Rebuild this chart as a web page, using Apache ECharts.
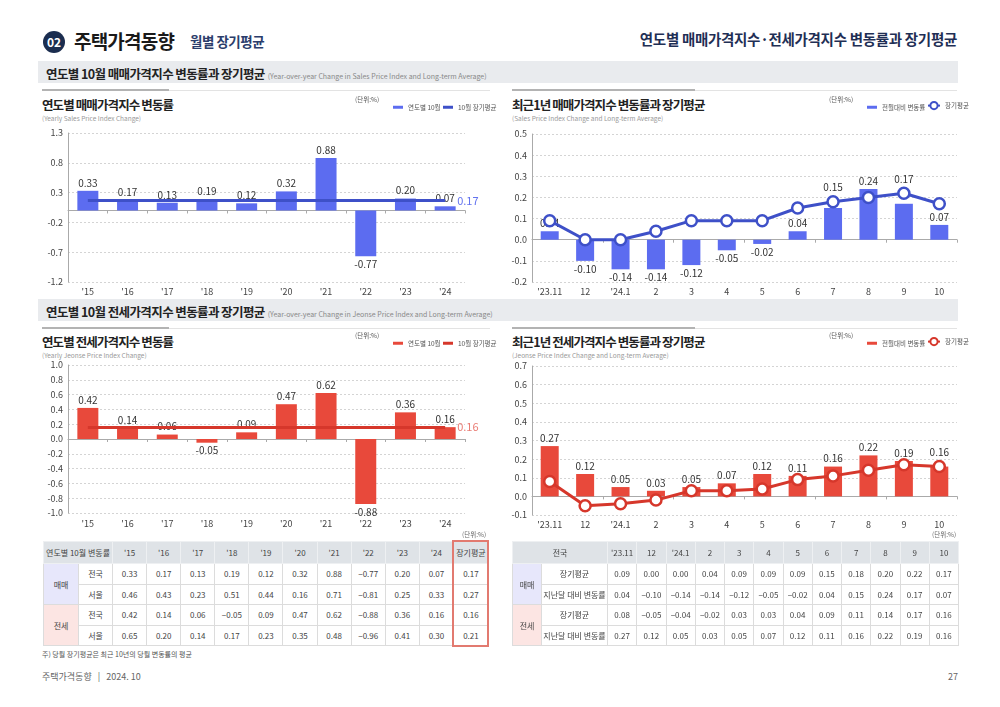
<!DOCTYPE html>
<html>
<head>
<meta charset="utf-8">
<script src="https://cdn.jsdelivr.net/npm/echarts@6.0.0/dist/echarts.min.js"></script>
<style>
  body { margin: 0; background: #fff; font-family: "Noto Sans CJK KR", "Noto Sans", sans-serif; color: #333; }
  #page { position: relative; width: 1000px; height: 707px; overflow: hidden; }
  .abs { position: absolute; white-space: nowrap; }
  .chart { position: absolute; }
  .sec { position: absolute; left: 38px; width: 920px; height: 22px; background: #e9ebee; }
  .sec b { position: absolute; left: 8px; top: 3px; font-size: 12.5px; letter-spacing: -0.6px; color: #222; }
  .sec span { font-size: 7px; color: #888; font-weight: normal; margin-left: 3px; letter-spacing: 0; }
  .hl { position: absolute; height: 1px; background: #e3e3e3; }
  .hd { position: absolute; height: 2px; background: #b3b3b3; }
  .ct { position: absolute; font-size: 12.5px; letter-spacing: -0.9px; font-weight: bold; color: #222; white-space: nowrap; }
  .cs { position: absolute; font-size: 6.5px; color: #999; white-space: nowrap; }
  table { position: absolute; border-collapse: collapse; font-size: 8px; color: #444; table-layout: fixed; }
  td { border: 1px solid #dcdcdc; text-align: center; padding: 0; height: 19.5px; }
  tr.h td { background: #dfe3e7; height: 21px; border-color: #eef0f2; }
  td.gs { background: #e7e7fb; }
  td.gj { background: #fce5e3; }
  .unit { position: absolute; font-size: 6.5px; color: #666; }
</style>
</head>
<body>
<div id="page">
  <!-- header -->
  <div class="abs" style="left:43px;top:31px;width:22px;height:22px;border-radius:11px;background:#1b2d4f;color:#fff;font-size:12px;font-weight:bold;text-align:center;line-height:22px;">02</div>
  <div class="abs" style="left:74px;top:27px;font-size:19px;letter-spacing:-0.8px;font-weight:bold;color:#1a1a1a;">주택가격동향</div>
  <div class="abs" style="left:190px;top:31px;font-size:13.5px;letter-spacing:-0.5px;font-weight:bold;color:#2b3d6b;">월별 장기평균</div>
  <div class="abs" style="right:43px;top:28px;font-size:14.5px;letter-spacing:-0.3px;font-weight:bold;color:#1f2f55;">연도별 매매가격지수·전세가격지수 변동률과 장기평균</div>

  <div class="sec" style="top:61px;"><b>연도별 10월 매매가격지수 변동률과 장기평균<span>(Year-over-year Change in Sales Price Index and Long-term Average)</span></b></div>
  <div class="sec" style="top:299px;"><b>연도별 10월 전세가격지수 변동률과 장기평균<span>(Year-over-year Change in Jeonse Price Index and Long-term Average)</span></b></div>

  <div class="hl" style="left:42px;top:90px;width:448px;"></div><div class="hd" style="left:42px;top:89px;width:127px;"></div>
  <div class="hl" style="left:512px;top:90px;width:445px;"></div><div class="hd" style="left:512px;top:89px;width:183px;"></div>
  <div class="hl" style="left:42px;top:328px;width:448px;"></div><div class="hd" style="left:42px;top:327px;width:127px;"></div>
  <div class="hl" style="left:512px;top:328px;width:445px;"></div><div class="hd" style="left:512px;top:327px;width:183px;"></div>

  <div class="ct" style="left:42px;top:95px;">연도별 매매가격지수 변동률</div>
  <div class="cs" style="left:42px;top:113px;">(Yearly Sales Price Index Change)</div>
  <div class="ct" style="left:512px;top:95px;">최근1년 매매가격지수 변동률과 장기평균</div>
  <div class="cs" style="left:512px;top:113px;">(Sales Price Index Change and Long-term Average)</div>
  <div class="ct" style="left:42px;top:332px;">연도별 전세가격지수 변동률</div>
  <div class="cs" style="left:42px;top:350px;">(Yearly Jeonse Price Index Change)</div>
  <div class="ct" style="left:512px;top:332px;">최근1년 전세가격지수 변동률과 장기평균</div>
  <div class="cs" style="left:512px;top:350px;">(Jeonse Price Index Change and Long-term Average)</div>

  <div id="cA" class="chart" style="left:40px;top:92px;width:460px;height:208px;"></div>
  <div id="cB" class="chart" style="left:500px;top:92px;width:470px;height:208px;"></div>
  <div id="cC" class="chart" style="left:40px;top:330px;width:460px;height:205px;"></div>
  <div id="cD" class="chart" style="left:500px;top:330px;width:470px;height:205px;"></div>

  <div class="unit" style="left:462px;top:529px;">(단위:%)</div>
  <div class="unit" style="left:932px;top:529px;">(단위:%)</div>

  <table id="tL" style="left:43px;top:541px;width:445px;"></table>
  <div class="abs" style="left:452px;top:540px;width:33px;height:103px;border:2px solid #e27a70;"></div>
  <table id="tR" style="left:512px;top:541px;width:446px;"></table>

  <div class="abs" style="left:42px;top:649px;font-size:7px;color:#555;">주) 당월 장기평균은 최근 10년의 당월 변동률의 평균</div>
  <div class="abs" style="left:42px;top:670px;font-size:9px;color:#666;">주택가격동향 &nbsp;&nbsp;| &nbsp;&nbsp;2024. 10</div>
  <div class="abs" style="left:948px;top:670px;font-size:9px;color:#666;">27</div>
</div>

<script>
// 연도별 10월 (전년동월대비)
var years = ["'15", "'16", "'17", "'18", "'19", "'20", "'21", "'22", "'23", "'24"];
var salesNation = [0.33, 0.17, 0.13, 0.19, 0.12, 0.32, 0.88, -0.77, 0.20, 0.07];
var salesSeoul = [0.46, 0.43, 0.23, 0.51, 0.44, 0.16, 0.71, -0.81, 0.25, 0.33];
var jeonseNation = [0.42, 0.14, 0.06, -0.05, 0.09, 0.47, 0.62, -0.88, 0.36, 0.16];
var jeonseSeoul = [0.65, 0.20, 0.14, 0.17, 0.23, 0.35, 0.48, -0.96, 0.41, 0.30];
var salesAvg = 0.17, salesSeoulAvg = 0.27;
var jeonseAvg = 0.16, jeonseSeoulAvg = 0.21;

// 최근 1년 (전월대비)
var months = ["'23.11", "12", "'24.1", "2", "3", "4", "5", "6", "7", "8", "9", "10"];
var salesMoM = [0.04, -0.10, -0.14, -0.14, -0.12, -0.05, -0.02, 0.04, 0.15, 0.24, 0.17, 0.07];
var salesLong = [0.09, 0.00, 0.00, 0.04, 0.09, 0.09, 0.09, 0.15, 0.18, 0.20, 0.22, 0.17];
var jeonseMoM = [0.27, 0.12, 0.05, 0.03, 0.05, 0.07, 0.12, 0.11, 0.16, 0.22, 0.19, 0.16];
var jeonseLong = [0.08, -0.05, -0.04, -0.02, 0.03, 0.03, 0.04, 0.09, 0.11, 0.14, 0.17, 0.16];

var FONT = '"Noto Sans CJK KR", "Noto Sans", sans-serif';
var BLUE = '#5c6cf0', BLUE_L = '#3e50c8';
var RED = '#e8493b', RED_L = '#d6372b';

function barData(vals, line, ppu) {
  return vals.map(function (v, i) {
    var d = { value: v, label: { position: v < 0 ? 'bottom' : 'top' } };
    // lift the value label over the marker when the line sits just above the bar
    if (line && v >= 0.1 && line[i] - v >= 0 && line[i] - v <= 0.06) {
      d.label.offset = [0, -(line[i] - v) * ppu - 6];
    }
    return d;
  });
}

function baseOption(c) {
  return {
    animation: false,
    textStyle: { fontFamily: FONT },
    grid: { left: c.grid[0], top: c.grid[1], right: c.grid[2], bottom: c.grid[3], containLabel: false, outerBoundsMode: 'none' },
    legend: [
      { data: [{ name: c.barName, icon: 'rect' }], left: c.lg[0], top: c.lg[2], itemWidth: 10, itemHeight: 3, itemGap: 4,
        textStyle: { fontSize: 6.5, color: '#555' }, selectedMode: false },
      { data: [c.lineIcon ? { name: c.lineName } : { name: c.lineName, icon: 'rect' }], left: c.lg[1], top: c.lineIcon ? c.lg[2] - 3 : c.lg[2],
        itemWidth: c.lineIcon ? 12 : 10, itemHeight: c.lineIcon ? 9 : 3, itemGap: 4,
        textStyle: { fontSize: 6.5, color: '#555' }, selectedMode: false }
    ],
    graphic: [{ type: 'text', left: c.lg[0] - 33, top: c.lg[2] - 3, style: { text: '(단위:%)', fontSize: 6.5, fill: '#555', fontFamily: FONT } }],
    xAxis: [
      { type: 'category', data: c.cats, position: 'bottom',
        axisLine: { show: false, onZero: false }, axisTick: { show: false },
        axisLabel: { color: '#444', fontSize: 9, margin: c.lblMargin } },
      { type: 'category', data: c.cats, position: 'bottom',
        axisLine: { show: true, onZero: true, lineStyle: { color: '#aaa' } },
        axisTick: { show: true, length: 3, lineStyle: { color: '#aaa' } },
        axisLabel: { show: false } }
    ],
    yAxis: { type: 'value', min: c.y[0], max: c.y[1], interval: c.y[2],
      axisLine: { show: true, lineStyle: { color: '#aaa' } }, axisTick: { show: false },
      axisLabel: { color: '#444', fontSize: 9, margin: 5, formatter: function (v) { return v.toFixed(1); } },
      splitLine: { show: true, lineStyle: { color: '#d4d4d4', type: [2, 2] } } },
    series: []
  };
}

function yearChart(id, c) {
  var opt = baseOption(c);
  opt.series = [
    { name: c.barName, type: 'bar', xAxisIndex: 0, data: barData(c.vals), barWidth: 21, itemStyle: { color: c.color },
      label: { show: true, fontSize: 10, color: '#333', distance: 3, formatter: function (p) { return p.value.toFixed(2); } },
      markLine: { silent: true, symbol: ['none', 'none'], animation: false,
        lineStyle: { color: c.lineColor, width: 3, type: 'solid' },
        label: { show: true, position: 'end', distance: 12, fontSize: 11, color: c.avgLabel, formatter: c.avg.toFixed(2) },
        data: [[{ coord: [c.cats[0], c.avg] }, { coord: [c.cats[c.cats.length - 1], c.avg] }]] } },
    { name: c.lineName, type: 'line', xAxisIndex: 0, data: [], itemStyle: { color: c.lineColor } }
  ];
  echarts.init(document.getElementById(id)).setOption(opt);
}

function monthChart(id, c) {
  var opt = baseOption(c);
  var h = c.h - c.grid[1] - c.grid[3];
  var ppu = h / (c.y[1] - c.y[0]);
  opt.series = [
    { name: c.barName, type: 'bar', xAxisIndex: 0, data: barData(c.vals, c.line, ppu), barWidth: 18, itemStyle: { color: c.color },
      label: { show: true, fontSize: 10, color: '#333', distance: 3, formatter: function (p) { return p.value.toFixed(2); } } },
    { name: c.lineName, type: 'line', xAxisIndex: 0, data: c.line, z: 5,
      symbol: 'circle', symbolSize: 11, showSymbol: true,
      lineStyle: { color: c.lineColor, width: 3 },
      itemStyle: { color: '#fff', borderColor: c.lineColor, borderWidth: 2.5 } }
  ];
  echarts.init(document.getElementById(id)).setOption(opt);
}

yearChart('cA', { cats: years, vals: salesNation, avg: salesAvg, color: BLUE, lineColor: BLUE_L, avgLabel: '#6373ef',
  barName: '연도별 10월', lineName: '10월 장기평균', y: [-1.2, 1.3, 0.5], grid: [28, 41, 35, 18], lg: [348, 398, 7], lblMargin: 5 });
monthChart('cB', { cats: months, vals: salesMoM, line: salesLong, color: BLUE, lineColor: BLUE_L, lineIcon: true, h: 208,
  barName: '전월대비 변동률', lineName: '장기평균', y: [-0.2, 0.5, 0.1], grid: [32, 42, 13, 18], lg: [362, 422, 7], lblMargin: 5 });
yearChart('cC', { cats: years, vals: jeonseNation, avg: jeonseAvg, color: RED, lineColor: RED_L, avgLabel: '#ea7c74',
  barName: '연도별 10월', lineName: '10월 장기평균', y: [-1.0, 1.0, 0.2], grid: [28, 35, 35, 22], lg: [348, 398, 5], lblMargin: 6 });
monthChart('cD', { cats: months, vals: jeonseMoM, line: jeonseLong, color: RED, lineColor: RED_L, lineIcon: true, h: 205,
  barName: '전월대비 변동률', lineName: '장기평균', y: [-0.1, 0.7, 0.1], grid: [32, 36, 13, 20], lg: [362, 422, 5], lblMargin: 5 });

// tables
function fmt(v) { return (v < 0 ? '\u2212' + (-v).toFixed(2) : v.toFixed(2)); }
function cells(arr) { return arr.map(function (v) { return '<td>' + fmt(v) + '</td>'; }).join(''); }

var tl = '<colgroup><col style="width:35px"><col style="width:34px">' + years.map(function () { return '<col style="width:34.1px">'; }).join('') + '<col style="width:35px"></colgroup>';
tl += '<tr class="h"><td colspan="2">연도별 10월 변동률</td>' + years.map(function (y) { return '<td>' + y + '</td>'; }).join('') + '<td>장기평균</td></tr>';
tl += '<tr><td class="gs" rowspan="2">매매</td><td>전국</td>' + cells(salesNation) + '<td>' + fmt(salesAvg) + '</td></tr>';
tl += '<tr><td>서울</td>' + cells(salesSeoul) + '<td>' + fmt(salesSeoulAvg) + '</td></tr>';
tl += '<tr><td class="gj" rowspan="2">전세</td><td>전국</td>' + cells(jeonseNation) + '<td>' + fmt(jeonseAvg) + '</td></tr>';
tl += '<tr><td>서울</td>' + cells(jeonseSeoul) + '<td>' + fmt(jeonseSeoulAvg) + '</td></tr>';
document.getElementById('tL').innerHTML = tl;

var tr = '<colgroup><col style="width:29px"><col style="width:66px">' + months.map(function () { return '<col style="width:29.25px">'; }).join('') + '</colgroup>';
tr += '<tr class="h"><td colspan="2">전국</td>' + months.map(function (m) { return '<td>' + m + '</td>'; }).join('') + '</tr>';
tr += '<tr><td class="gs" rowspan="2">매매</td><td>장기평균</td>' + cells(salesLong) + '</tr>';
tr += '<tr><td>지난달 대비 변동률</td>' + cells(salesMoM) + '</tr>';
tr += '<tr><td class="gj" rowspan="2">전세</td><td>장기평균</td>' + cells(jeonseLong) + '</tr>';
tr += '<tr><td>지난달 대비 변동률</td>' + cells(jeonseMoM) + '</tr>';
document.getElementById('tR').innerHTML = tr;
</script>
</body>
</html>
